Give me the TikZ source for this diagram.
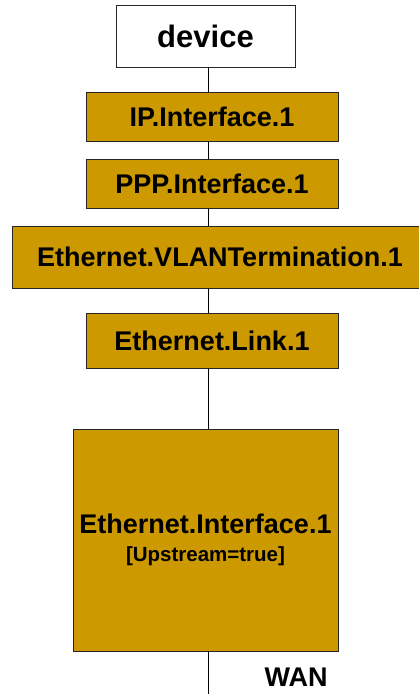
\documentclass[tikz,border=0pt]{standalone}
\usepackage{fontspec}
\setmainfont{Liberation Sans}
\usetikzlibrary{calc}
\definecolor{objgold}{RGB}{204,153,0}
\tikzset{
	every path/.style={line width=1pt},
	align=center,
	obj/.style={
		draw=black!85,
		rectangle,
		fill=objgold,
		inner sep=0pt,
		font=\bfseries\fontsize{27}{30}\selectfont,
	},
	root/.style={
		obj,
		fill=white,
		font=\bfseries\fontsize{31}{34}\selectfont,
	},
	link/.style={
		draw=black,
	},
}

\begin{document}
\begin{tikzpicture}[x=1pt,y=-1pt]
		\useasboundingbox (0,0) rectangle (419,694);

		\node[root, minimum width=179pt, minimum height=62pt] (dev) at (205.5,36) {device};
		\node[obj, minimum width=252pt, minimum height=49pt] (ip) at (212,116.5) {IP.Interface.1};
		\node[obj, minimum width=252pt, minimum height=49pt] (ppp) at (212,183.5) {PPP.Interface.1};
		\node[obj, minimum width=416pt, minimum height=62pt] (vlan) at (220,257) {Ethernet.VLANTermination.1};
		\node[obj, minimum width=252pt, minimum height=55pt] (elink) at (212,340.5) {Ethernet.Link.1};
		\node[obj, minimum width=265pt, minimum height=222pt] (eif) at (205.5,540) {Ethernet.Interface.1\\[-2pt]{\fontsize{20.5}{24}\selectfont [Upstream=true]}};

		\node[font=\bfseries\fontsize{27}{30}\selectfont] (wan) at (296,677) {WAN};
		\coordinate (bot) at (208.5,694);

		\draw[link] (dev.south -| bot) -- (ip.north -| bot);
		\draw[link] (ip.south -| bot) -- (ppp.north -| bot);
		\draw[link] (ppp.south -| bot) -- (vlan.north -| bot);
		\draw[link] (vlan.south -| bot) -- (elink.north -| bot);
		\draw[link] (elink.south -| bot) -- (eif.north -| bot);
		\draw[link] (eif.south -| bot) -- (bot);

	\end{tikzpicture}
\end{document}
